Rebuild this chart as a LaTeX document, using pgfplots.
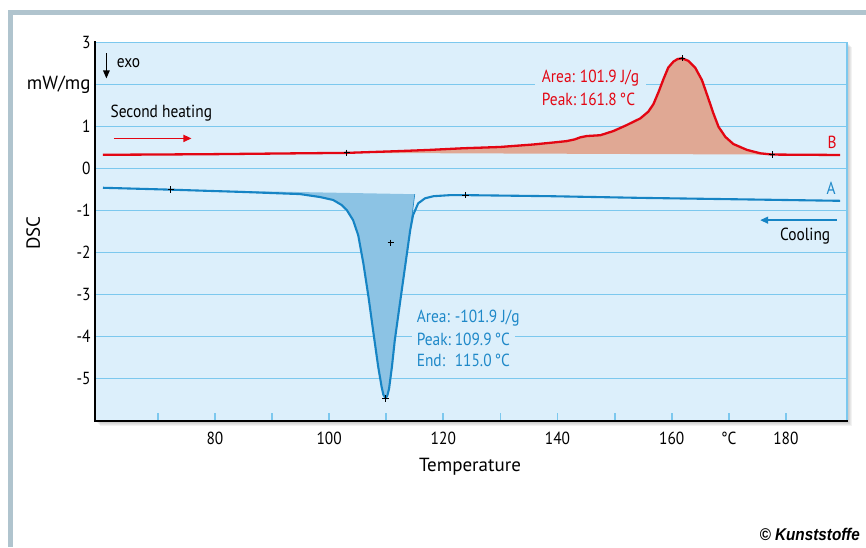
\documentclass[border=0pt]{standalone}
\usepackage{fontspec}
\setmainfont{PT Sans}[FakeStretch=0.88]
\newfontfamily\wfont{PT Sans}
\newfontfamily\cfont{Liberation Sans}[FakeStretch=0.9]
\usepackage{pgfplots}
\pgfplotsset{compat=1.18}
\usetikzlibrary{arrows.meta}
\definecolor{bgblue}{RGB}{220,239,251}
\definecolor{gridblue}{RGB}{124,200,238}
\definecolor{curvered}{RGB}{227,6,19}
\definecolor{fillred}{RGB}{224,168,148}
\definecolor{curveblue}{RGB}{22,132,196}
\definecolor{fillblue}{RGB}{140,195,228}
\definecolor{textblue}{RGB}{30,136,200}
\definecolor{framegrey}{RGB}{176,196,206}
\newcommand\fs{\fontsize{17.5}{21}\selectfont}
\newcommand\ls{\wfont\fontsize{19}{22}\selectfont}

% second heating (B)
\pgfplotstableread{
T y
60.4 0.325
68.6 0.33
80 0.34
95 0.36
103.1 0.37
111.8 0.41
117.5 0.44
123.5 0.48
129.9 0.51
135.8 0.57
139.5 0.62
141.6 0.65
143.0 0.69
144.0 0.74
145.1 0.77
146.3 0.78
147.5 0.79
149.8 0.89
152.1 1.03
154.5 1.19
155.9 1.35
156.8 1.53
157.7 1.82
158.6 2.14
159.4 2.40
160.3 2.54
161.0 2.60
161.8 2.62
162.9 2.56
164.1 2.40
165.3 2.10
166.4 1.67
167.3 1.31
168.2 0.99
169.4 0.75
170.8 0.58
173.2 0.44
175.5 0.36
177.6 0.33
189.5 0.32
}\heating

% cooling (A)
\pgfplotstableread{
T y
60.4 -0.46
72.3 -0.505
85 -0.56
94.9 -0.61
98.4 -0.68
100.7 -0.75
102.2 -0.87
103.1 -0.99
104.2 -1.23
105.1 -1.59
106.0 -2.26
106.9 -3.06
107.7 -3.85
108.6 -4.72
109.2 -5.20
109.5 -5.38
109.9 -5.47
110.2 -5.40
110.5 -5.24
111.0 -4.72
111.5 -4.09
112.4 -3.21
113.3 -2.34
114.2 -1.47
114.7 -1.11
115.6 -0.83
116.8 -0.71
118.3 -0.66
121.2 -0.635
123.9 -0.635
138.7 -0.66
154.5 -0.70
189.5 -0.77
}\cooling

\begin{document}
\begin{tikzpicture}
\path[use as bounding box] (-95pt,-126.3pt) rectangle (771pt,420.7pt);
% page frame
\fill[framegrey] (-86.7pt,405.7pt) rectangle (771pt,410.7pt);
\fill[framegrey] (-86.7pt,-126.3pt) rectangle (-81.7pt,410.7pt);
% soft shadow behind the plot area
\foreach \d in {1,...,5}
  \fill[black,opacity=0.05] ({\d*1pt},{-\d*1pt}) rectangle ({752pt+\d*1pt},{378.4pt-\d*1pt});

\begin{axis}[
  at={(0,0)}, anchor=south west,
  scale only axis, width=752pt, height=378.4pt,
  xmin=59, xmax=190.7, ymin=-6, ymax=3,
  axis line style={draw=none},
  axis background/.style={fill=bgblue},
  xtick={80,100,120,140,160,170,180},
  xticklabels={80,100,120,140,160,°C,180},
  ytick={-5,-4,-3,-2,-1,0,1,2,3},
  yticklabels={-5,-4,-3,-2,-1,0,1,{\ls mW/mg},3},
  ymajorgrids, grid style={gridblue, line width=1.4pt},
  xtick pos=bottom, ytick pos=left,
  major tick length=0pt,
  xtick style={draw=none}, ytick style={draw=none},
  tick label style={font=\fs},
  xticklabel style={yshift=-8pt},
  yticklabel style={xshift=-1pt},
  clip=false,
]
% integrated areas
\addplot[fill=fillred, draw=none] table[restrict x to domain=103:178] {\heating} -- cycle;
\addplot[fill=fillblue, draw=none] table[restrict x to domain=72:114.3] {\cooling} -- (axis cs:115.0,-0.613) -- cycle;
\draw[curveblue, line width=0.6pt] (axis cs:115.0,-0.613) -- (axis cs:114.2,-1.47);

% annotations
\node[anchor=west, font=\fs, text=curvered, fill=bgblue, inner xsep=6.5pt, inner ysep=2pt] at (axis cs:136.1,2.14) {\makebox[38pt][l]{Area:}101.9 J/g\hspace{3pt}};
\node[anchor=west, font=\fs, text=curvered, inner xsep=6.5pt, inner ysep=2pt] at (axis cs:136.1,1.64) {\makebox[38pt][l]{Peak:}161.8\,°C};
\node[anchor=west, font=\fs, text=textblue, inner xsep=5pt, inner ysep=2pt] at (axis cs:114.45,-3.55) {\makebox[38pt][l]{Area:}-101.9 J/g};
\node[anchor=west, font=\fs, text=textblue, fill=bgblue, inner xsep=5pt, inner ysep=2pt] at (axis cs:114.45,-4.07) {\makebox[38pt][l]{Peak:}109.9\,°C\hspace{3pt}};
\node[anchor=west, font=\fs, text=textblue, inner xsep=5pt, inner ysep=2pt] at (axis cs:114.45,-4.56) {\makebox[38pt][l]{End:}115.0\,°C};

\node[anchor=west, font=\fs, inner sep=0pt] at (axis cs:61.7,1.32) {Second heating};
\draw[curvered, line width=1.4pt, -{Triangle[length=8pt,width=7pt]}] (axis cs:62.3,0.714) -- (axis cs:75.9,0.714);
\draw[black, line width=1.2pt, -{Triangle[length=8pt,width=6.5pt]}] (axis cs:61.0,2.74) -- (axis cs:61.0,2.14);
\node[anchor=west, font=\fs, inner sep=0pt] at (axis cs:62.8,2.5) {exo};
\node[anchor=east, font=\fs, inner sep=0pt] at (axis cs:187.8,-1.60) {Cooling};
\draw[curveblue, line width=1.4pt, -{Triangle[length=8pt,width=7pt]}] (axis cs:188.9,-1.23) -- (axis cs:175.5,-1.23);
\node[font=\fs, text=curvered, inner sep=0pt] at (axis cs:188.1,0.62) {B};
\node[font=\fs, text=textblue, inner sep=0pt] at (axis cs:187.9,-0.48) {A};

% curves
\addplot[curvered, line width=2.3pt, line join=round] table {\heating};
\addplot[curveblue, line width=2.1pt, line join=round] table {\cooling};

% evaluation points
\addplot[only marks, mark=+, mark size=3.2pt, black, mark options={line width=0.9pt}]
  coordinates {(72.3,-0.505) (103.1,0.37) (110.8,-1.77) (109.9,-5.47) (123.9,-0.635) (161.8,2.62) (177.6,0.33)};
\end{axis}

% temperature scale marks every 10 degrees (5.7099pt per degree from 59)
\foreach \t in {70,80,...,180}
  \draw[gridblue, line width=1.8pt] ({(\t-59)*5.7099pt},0pt) -- ++(0pt,8pt);

% plot area border
\draw[gridblue, line width=1.5pt] (0,378.4pt) -- (752pt,378.4pt) -- (752pt,0);
\draw[black, line width=2.4pt, line cap=rect] (0,378.4pt) -- (0,0) -- (752pt,0);

\node[font=\ls] at (375pt,-46.3pt) {Temperature};
\node[font=\ls, rotate=90] at (-61.7pt,187.4pt) {DSC};
\node[anchor=east, inner sep=0pt, font={\fontsize{17}{20}\selectfont}] at (765pt,-113.3pt) {\cfont\bfseries\itshape © Kunststoffe};
\end{tikzpicture}
\end{document}
